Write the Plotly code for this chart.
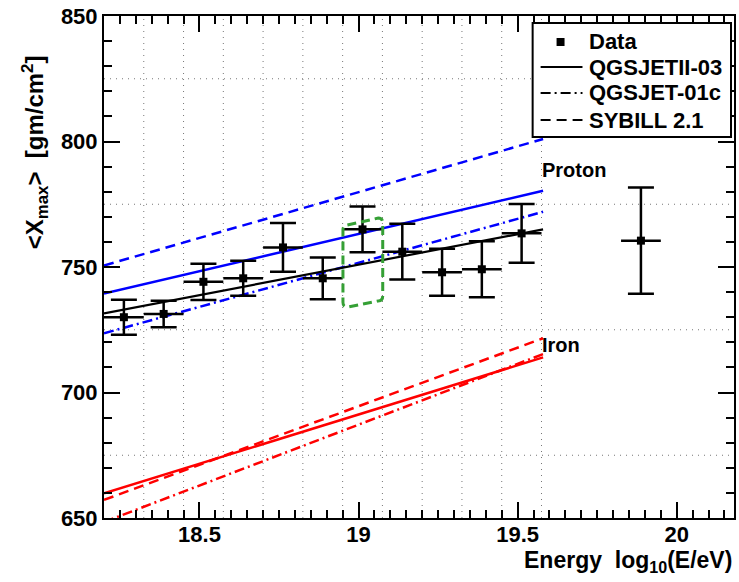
import plotly.graph_objects as go

# ---------------- data ----------------
energy = [18.2625, 18.3875, 18.5125, 18.6375, 18.7625, 18.8875, 19.0125,
          19.1375, 19.2625, 19.3875, 19.5125, 19.8875]
xmax = [730.0, 731.3, 744.1, 745.5, 757.8, 745.5, 765.0,
        756.1, 747.9, 749.1, 763.4, 760.5]
xmax_err = [7.0, 5.3, 7.2, 7.0, 9.7, 8.3, 9.1, 11.1, 9.4, 11.2, 11.7, 21.2]
energy_err = [0.0625] * 12

model_E = [18.2, 19.58]
qgsjetII_p = [739.4, 780.4]
qgsjet01_p = [723.6, 772.0]
sibyll_p = [750.6, 801.0]
qgsjetII_fe = [659.8, 714.0]
qgsjet01_fe = [648.4, 715.3]
sibyll_fe = [657.2, 721.6]

fit_E = [18.2, 19.58]
fit_X = [731.5, 765.0]

bin_edges = [18.325, 18.45, 18.575, 18.7, 18.825, 18.95, 19.075,
             19.2, 19.325, 19.45, 19.575]
grid_levels = [675, 725, 775, 825]

box_E = [18.951, 19.076]
box_top = [766.7, 769.5]
box_bot = [734.0, 736.5]

legend_names = ["Data", "QGSJETII-03", "QGSJET-01c", "SYBILL 2.1"]
x_range = [18.2, 20.18]
y_range = [650, 850]

FONT = "Liberation Sans, Arial, Helvetica, sans-serif"
DASH = "10px,6px"
DASHDOT = "10px,4px,2px,4px"

# plot-area geometry (px)
W, H = 739, 582
ML, MR, MT, MB = 104, 3, 16, 64
PW, PH = W - ML - MR, H - MT - MB


def px(xp):
    return (xp - ML) / PW


def py(yp):
    return (H - MB - yp) / PH


fig = go.Figure()

# model lines
for yv, col, dash in [(sibyll_p, "blue", DASH), (qgsjetII_p, "blue", "solid"),
                      (qgsjet01_p, "blue", DASHDOT),
                      (sibyll_fe, "red", DASH), (qgsjetII_fe, "red", "solid"),
                      (qgsjet01_fe, "red", DASHDOT)]:
    fig.add_trace(go.Scatter(x=model_E, y=yv, mode="lines", showlegend=False,
                             line=dict(color=col, width=2.5, dash=dash),
                             hoverinfo="skip"))

# fit line
fig.add_trace(go.Scatter(x=fit_E, y=fit_X, mode="lines", showlegend=False,
                         line=dict(color="black", width=2.2)))

# data
fig.add_trace(go.Scatter(
    x=energy, y=xmax, mode="markers", name=legend_names[0], showlegend=False,
    marker=dict(symbol="square", size=8, color="black"),
    error_y=dict(type="data", array=xmax_err, color="black", thickness=2.5, width=13),
    error_x=dict(type="data", array=energy_err, color="black", thickness=2.5, width=0),
))

shapes = []
for e in bin_edges:
    shapes.append(dict(type="line", xref="x", yref="paper", x0=e, x1=e, y0=0, y1=1,
                       line=dict(color="#777", width=1, dash="1px,5px"), layer="below"))
for g in grid_levels:
    shapes.append(dict(type="line", xref="paper", yref="y", x0=0, x1=1, y0=g, y1=g,
                       line=dict(color="#777", width=1, dash="1px,5px"), layer="below"))

# green rounded box
x0, x1 = box_E
rx, ry = 0.014, 2.0
path = (f"M {x0+rx},{box_top[0]} L {x1-rx},{box_top[1]} "
        f"Q {x1},{box_top[1]} {x1},{box_top[1]-ry} L {x1},{box_bot[1]+ry} "
        f"Q {x1},{box_bot[1]} {x1-rx},{box_bot[1]} L {x0+rx},{box_bot[0]} "
        f"Q {x0},{box_bot[0]} {x0},{box_bot[0]+ry} L {x0},{box_top[0]-ry} "
        f"Q {x0},{box_top[0]} {x0+rx},{box_top[0]} Z")
shapes.append(dict(type="path", xref="x", yref="y", path=path,
                   line=dict(color="#35a035", width=3, dash="9px,5px")))

# ---- legend box (manual, ROOT style) ----
shapes.append(dict(type="rect", xref="paper", yref="paper",
                   x0=px(534), x1=px(733), y0=py(137), y1=py(23),
                   line=dict(color="black", width=2), fillcolor="white", layer="above"))
rows_y = [42, 67, 93, 120]
shapes.append(dict(type="rect", xref="paper", yref="paper",
                   x0=px(558), x1=px(566), y0=py(rows_y[0] + 4), y1=py(rows_y[0] - 4),
                   line=dict(color="black", width=0), fillcolor="black", layer="above"))
for ry_, dash in zip(rows_y[1:], ["solid", DASHDOT, DASH]):
    shapes.append(dict(type="line", xref="paper", yref="paper",
                       x0=px(542), x1=px(584), y0=py(ry_), y1=py(ry_),
                       line=dict(color="black", width=2.2, dash=dash), layer="above"))

annotations = []
for name, ry_ in zip(legend_names, rows_y):
    annotations.append(dict(text=name, x=px(589), y=py(ry_), xref="paper", yref="paper",
                            xanchor="left", yanchor="middle", showarrow=False,
                            font=dict(family=FONT, size=22, color="black", weight="bold")))

annotations += [
    dict(text="Proton", x=19.57, y=788.6, xref="x", yref="y", xanchor="left",
         yanchor="middle", showarrow=False,
         font=dict(family=FONT, size=20, color="black", weight="bold")),
    dict(text="Iron", x=19.57, y=719.0, xref="x", yref="y", xanchor="left",
         yanchor="middle", showarrow=False,
         font=dict(family=FONT, size=20, color="black", weight="bold")),
    dict(text="&lt;X<sub>max</sub>&gt;&nbsp;&nbsp;[gm/cm<sup>2</sup>]", textangle=-90,
         x=px(35), y=py(152), xref="paper", yref="paper", xanchor="center",
         yanchor="middle", showarrow=False,
         font=dict(family=FONT, size=24, color="black", weight="bold")),
    dict(text="Energy&nbsp;&nbsp;log<sub>10</sub>(E/eV)", x=px(736), y=py(561),
         xref="paper", yref="paper", xanchor="right", yanchor="middle",
         showarrow=False,
         font=dict(family=FONT, size=23, color="black", weight="bold")),
]

axis_common = dict(showgrid=False, zeroline=False, showline=True, linecolor="black",
                   linewidth=2, mirror="ticks", ticks="inside", tickcolor="black",
                   tickwidth=2, ticklen=16,
                   tickfont=dict(family=FONT, size=22, color="black", weight="bold"))

fig.update_layout(
    width=W, height=H,
    margin=dict(l=ML, r=MR, t=MT, b=MB),
    paper_bgcolor="white", plot_bgcolor="white",
    xaxis=dict(range=x_range, dtick=0.5, tick0=18.5, ticklabelstandoff=-4,
               minor=dict(dtick=0.05, ticks="inside", ticklen=8, tickcolor="black",
                          tickwidth=1.5),
               **axis_common),
    yaxis=dict(range=y_range, dtick=50, tick0=650,
               minor=dict(dtick=10, ticks="inside", ticklen=8, tickcolor="black",
                          tickwidth=1.5),
               **axis_common),
    shapes=shapes,
    annotations=annotations,
    showlegend=False,
)

fig.write_html("out.html")
